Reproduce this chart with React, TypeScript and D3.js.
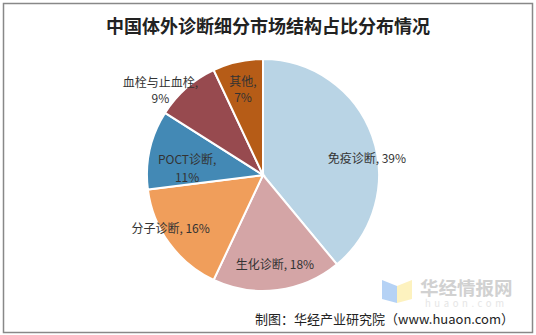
import React from "react";
import * as d3 from "d3";

const categories = ["免疫诊断", "生化诊断", "分子诊断", "POCT诊断", "血栓与止血栓", "其他"];
const values = [39, 18, 16, 11, 9, 7];
const colors = ["#B9D4E5", "#D4A5A6", "#F09E5B", "#4389B5", "#974A4F", "#B65C17"];
// label layout: two-line flag, line gap and nudge from centroid (style, not data)
const twoLine = [false, false, false, true, true, true];
const lineGaps = [0, 0, 0, 18, 16, 16];
const nudges: [number, number][] = [[22, 12], [1, 2], [-22, 1], [9, 11], [-45, -20], [-1, -2]];

const W = 536, H = 335;
const cx = 263, cy = 175, R = 116;

export default function App() {
  const pie = d3.pie<number>().sort(null).value((d) => d);
  const arcs = pie(values);
  const arc = d3.arc<d3.PieArcDatum<number>>().innerRadius(0).outerRadius(R);
  const labelArc = d3.arc<d3.PieArcDatum<number>>().innerRadius(87).outerRadius(87);
  const font = "'Noto Sans CJK SC', 'Liberation Sans', sans-serif";
  return (
    <svg width={W} height={H} style={{ position: "absolute", left: 0, top: 0, background: "#fff" }}>
      <rect x={3.5} y={3.5} width={529} height={329} fill="#fff" stroke="#888" strokeWidth={1.5} />
      <text x={268} y={25} textAnchor="middle" dominantBaseline="central" fontFamily="'Noto Sans CJK SC', serif" fontWeight={700} fontSize={18} fill="#222">
        中国体外诊断细分市场结构占比分布情况
      </text>
      <g transform={`translate(${cx},${cy})`}>
        {arcs.map((a, i) => (
          <path key={i} d={arc(a) || ""} fill={colors[i]} stroke="#fff" strokeWidth={2} />
        ))}
        {arcs.map((a, i) => {
          const [x0, y0] = labelArc.centroid(a);
          const x = x0 + nudges[i][0];
          const y = y0 + nudges[i][1];
          const pct = `${values[i]}%`;
          if (twoLine[i]) {
            const g = lineGaps[i] / 2;
            return (
              <g key={"l" + i}>
                <text x={x} y={y - g} textAnchor="middle" dominantBaseline="central" fontFamily={font} fontSize={12} fill="#333">{categories[i]},</text>
                <text x={x} y={y + g} textAnchor="middle" dominantBaseline="central" fontFamily={font} fontSize={12} fill="#333">{pct}</text>
              </g>
            );
          }
          return (
            <text key={"l" + i} x={x} y={y} textAnchor="middle" dominantBaseline="central" fontFamily={font} fontSize={12} fill="#333">
              {categories[i]}, {pct}
            </text>
          );
        })}
      </g>
      <g opacity={0.85}>
        <polygon points="382,280 397,286 397,303 382,299" fill="#A9CBF4" />
        <polygon points="397,286 412,280 412,299 397,303" fill="#FDF0B5" />
        <text x={420} y={287} dominantBaseline="central" fontFamily={font} fontWeight={700} fontSize={18.5} fill="#C9C9C9">华经情报网</text>
        <text x={425} y={303} dominantBaseline="central" fontFamily={font} fontSize={9.5} letterSpacing={3.6} fill="#E2E2E2">huaon.com</text>
      </g>
      <text x={514} y={318.5} textAnchor="end" dominantBaseline="central" fontFamily={font} fontSize={13} fill="#222">
        制图：华经产业研究院（www.huaon.com）
      </text>
    </svg>
  );
}
